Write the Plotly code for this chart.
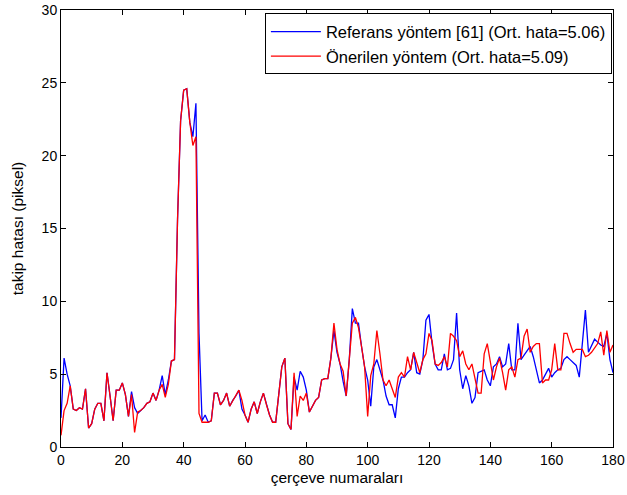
import plotly.graph_objects as go

frames = list(range(0, 181))

referans = [
    2.0, 6.1, 5.0, 4.2, 2.6, 2.5, 2.7, 2.6, 4.0, 1.3,
    1.6, 2.6, 3.0, 3.0, 1.8, 5.1, 3.5, 1.8, 3.9, 3.9,
    4.4, 3.6, 2.1, 3.8, 2.7, 2.3, 2.5, 2.7, 3.0, 3.1,
    3.7, 3.2, 3.9, 4.9, 3.6, 4.6, 5.9, 6.0, 15.6, 22.4,
    24.5, 24.6, 22.3, 21.3, 23.6, 7.8, 1.8, 2.2, 1.7, 1.8,
    3.7, 3.7, 2.9, 3.2, 3.7, 2.8, 3.2, 3.5, 3.9, 2.6,
    2.2, 1.7, 2.6, 3.1, 2.3, 3.1, 3.7, 2.9, 2.2, 1.7,
    1.7, 3.6, 5.5, 6.1, 1.6, 1.2, 4.8, 3.9, 5.2, 4.8,
    3.9, 2.4, 2.8, 3.2, 3.4, 4.6, 4.7, 4.7, 6.1, 8.0,
    6.5, 5.7, 4.5, 3.5, 6.0, 9.5, 8.5, 8.5, 6.9, 5.5,
    4.6, 2.8, 5.5, 6.0, 5.3, 4.6, 3.5, 2.9, 2.9, 2.0,
    4.0, 4.8, 4.8, 5.1, 5.3, 6.5, 5.1, 5.0, 6.0, 8.7,
    9.1, 7.1, 5.7, 5.3, 5.3, 6.4, 5.3, 5.4, 6.0, 9.2,
    5.3, 4.0, 4.9, 4.2, 3.0, 3.4, 5.1, 5.2, 5.3, 4.6,
    4.2, 5.5, 5.7, 6.2, 5.5, 5.7, 7.1, 5.3, 5.3, 8.5,
    6.0, 6.3, 6.6, 6.9, 6.2, 5.3, 4.4, 4.6, 5.0, 5.4,
    4.8, 5.1, 5.3, 5.4, 6.0, 6.2, 6.0, 5.8, 5.6, 4.8,
    6.9, 9.4, 6.5, 6.9, 7.4, 7.2, 7.0, 6.9, 7.8, 6.0,
    5.1,
]

onerilen = [
    0.8, 2.5, 3.0, 4.2, 2.6, 2.5, 2.7, 2.6, 4.0, 1.3,
    1.6, 2.6, 3.0, 3.0, 1.8, 5.1, 3.5, 1.8, 3.9, 3.9,
    4.4, 3.6, 2.1, 3.6, 1.0, 2.4, 2.5, 2.7, 3.0, 3.1,
    3.7, 3.2, 3.9, 4.3, 3.4, 4.3, 5.9, 6.0, 15.6, 22.4,
    24.5, 24.6, 22.3, 20.7, 21.3, 2.3, 1.7, 1.7, 1.7, 1.8,
    3.7, 3.7, 2.9, 3.2, 3.7, 2.8, 3.2, 3.5, 3.9, 3.2,
    2.2, 1.7, 2.6, 3.1, 2.3, 3.1, 3.7, 2.9, 2.2, 1.7,
    1.7, 3.6, 5.5, 6.1, 1.6, 1.2, 5.1, 2.1, 3.5, 3.2,
    3.7, 2.4, 2.8, 3.2, 3.4, 4.6, 4.7, 4.7, 6.1, 8.5,
    6.7, 5.7, 5.2, 3.5, 6.0, 8.5, 8.9, 8.2, 6.9, 5.5,
    2.1, 4.9, 5.7, 8.0, 6.4, 4.6, 4.2, 4.6, 4.0, 3.4,
    4.8, 5.1, 4.8, 6.2, 5.3, 6.5, 5.8, 5.1, 6.0, 6.4,
    7.8, 7.3, 5.7, 5.6, 5.8, 6.2, 5.5, 7.8, 7.6, 7.3,
    6.2, 6.6, 5.7, 5.3, 5.7, 4.8, 3.7, 3.7, 6.4, 7.1,
    5.8, 4.6, 5.5, 6.1, 5.1, 3.9, 5.3, 5.5, 4.8, 6.0,
    6.1, 7.6, 8.1, 6.5, 6.9, 7.1, 7.1, 4.4, 4.6, 4.6,
    5.3, 7.1, 5.3, 5.3, 7.8, 7.8, 7.1, 6.5, 6.7, 6.7,
    6.7, 6.2, 6.3, 6.5, 6.8, 7.1, 7.9, 6.3, 8.0, 6.5,
    7.0,
]

x_ticks = [0, 20, 40, 60, 80, 100, 120, 140, 160, 180]
y_ticks = [0, 5, 10, 15, 20, 25, 30]

fig = go.Figure()
fig.add_trace(go.Scatter(x=frames, y=referans, mode="lines",
                         name="Referans yöntem [61] (Ort. hata=5.06)",
                         line=dict(color="#0000ff", width=1.3)))
fig.add_trace(go.Scatter(x=frames, y=onerilen, mode="lines",
                         name="Önerilen yöntem (Ort. hata=5.09)",
                         line=dict(color="#ff0000", width=1.3)))

axis_common = dict(showgrid=False, zeroline=False, showline=True, linecolor="black",
                   linewidth=1, mirror="ticks", ticks="inside", ticklen=5,
                   tickcolor="black", automargin=False,
                   tickfont=dict(family="Liberation Sans, Arial", size=14, color="black"))

fig.update_layout(
    width=627, height=495,
    margin=dict(l=61, r=14, t=10, b=48),
    paper_bgcolor="white", plot_bgcolor="white",
    font=dict(family="Liberation Sans, Arial", color="black"),
    xaxis=dict(range=[0, 180], tickvals=x_ticks,
               title=dict(text="çerçeve numaraları", font=dict(size=15.5), standoff=5),
               **axis_common),
    yaxis=dict(range=[0, 30], tickvals=y_ticks,
               title=dict(text="takip hatası (piksel)", font=dict(size=15.5), standoff=14),
               **axis_common),
    legend=dict(x=0.998, y=0.992, xanchor="right", yanchor="top",
                bgcolor="white", bordercolor="black", borderwidth=1,
                font=dict(size=16.5, color="black"), tracegroupgap=0,
                itemwidth=50),
    showlegend=True,
)

fig.write_html("out.html")
